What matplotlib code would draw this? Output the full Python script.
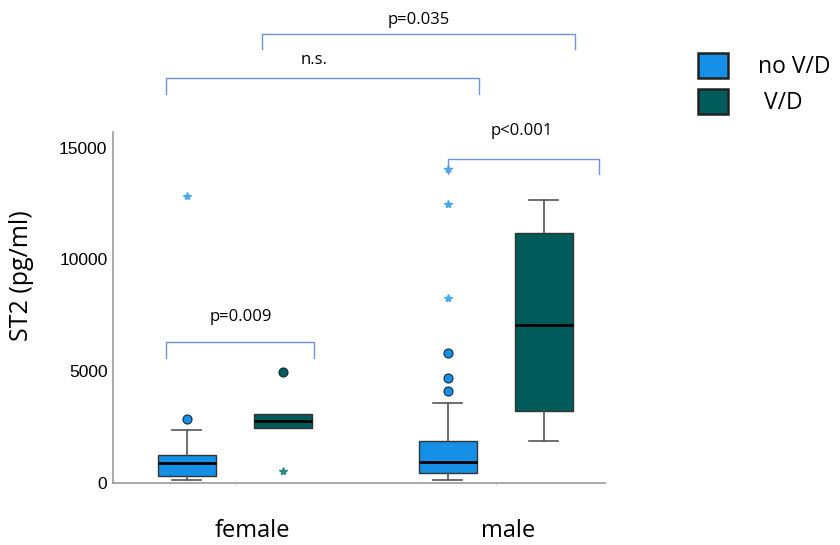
import matplotlib
matplotlib.use("Agg")
import matplotlib.pyplot as plt
from matplotlib.patches import Patch
import matplotlib.transforms as mtransforms

# ST2 box plot by sex and V/D status

groups = ["female", "male"]
series = ["no V/D", "V/D"]
colors = ["#1690e6", "#005c5a"]
star_colors = ["#4aaaf0", "#2f8a86"]

# whisker low, Q1, median, Q3, whisker high  (female, male)
whislo = [[130, 130], [2440, 1860]]
q1 = [[330, 460], [2440, 3200]]
med = [[890, 920], [2750, 7080]]
q3 = [[1250, 1890], [3080, 11160]]
whishi = [[2380, 3570], [3080, 12650]]
outliers = [[[2860], [4120, 4690, 5820]], [[4970], []]]
extremes = [[[12830], [8260, 12490, 14050]], [[520], []]]

# significance brackets: box index from/to, bracket height, text
br_boxes = [(0, 1), (2, 3), (0, 2), (1, 3)]
br_height = [6300, 14500, 18110, 20090]
br_text = ["p=0.009", "p<0.001", "n.s.", "p=0.035"]
br_text_x = [0.023, 1.101, 0.303, 0.705]
br_text_y = [7410, 15760, 18930, 20710]

fig = plt.figure(figsize=(8.4, 5.45), dpi=100)
ax = fig.add_axes([0.1345, 0.1138, 0.5855, 0.6442])

offset = 0.184
width = 0.222
box_x = []
for g in range(len(groups)):
    for s in range(len(series)):
        box_x.append(g + (s - 0.5) * 2 * offset)

for s in range(len(series)):
    stats = []
    pos = []
    for g in range(len(groups)):
        stats.append(dict(whislo=whislo[s][g], q1=q1[s][g], med=med[s][g],
                          q3=q3[s][g], whishi=whishi[s][g],
                          fliers=outliers[s][g]))
        pos.append(g + (s - 0.5) * 2 * offset)
    ax.bxp(stats, positions=pos, widths=width, patch_artist=True,
           boxprops=dict(facecolor=colors[s], edgecolor="#333333", linewidth=1),
           medianprops=dict(color="black", linewidth=2),
           whiskerprops=dict(color="#555555", linewidth=1.2),
           capprops=dict(color="#555555", linewidth=1.2),
           capwidths=width * 0.5 if s == 0 else (width * 0.0, width * 0.5),
           flierprops=dict(marker="o", markerfacecolor=colors[s],
                           markeredgecolor="#1a2a3a", markersize=6.5,
                           markeredgewidth=0.8))
    for g in range(len(groups)):
        xs = [g + (s - 0.5) * 2 * offset] * len(extremes[s][g])
        ax.plot(xs, extremes[s][g], linestyle="none", marker="*",
                color=star_colors[s], markersize=6)

ax.set_xlim(-0.467, 1.418)
ax.set_ylim(0, 15700)
ax.set_yticks([0, 5000, 10000, 15000])
ax.set_yticklabels(["0", "5000", "10000", "15000"], fontsize=12.5,
                   family="Liberation Sans")
ax.tick_params(axis="y", length=0, pad=4)
ax.set_xticks([0, 1])
ax.set_xticklabels(groups, fontsize=17, family="Open Sans")
ax.tick_params(axis="x", length=2, color="#dddddd", pad=24)
for lbl, dx in zip(ax.get_xticklabels(), [18, 12]):
    lbl.set_transform(lbl.get_transform() +
                      mtransforms.ScaledTranslation(dx / 100, 0, fig.dpi_scale_trans))
ax.set_ylabel("ST2 (pg/ml)", fontsize=18, family="Open Sans", labelpad=12)
ax.yaxis.set_label_coords(-0.16, 0.59)
for side in ["top", "right"]:
    ax.spines[side].set_visible(False)
for side in ["left", "bottom"]:
    ax.spines[side].set_color("#9a9a9a")
    ax.spines[side].set_linewidth(1.2)

drop = 700
for k, (i, j) in enumerate(br_boxes):
    h = br_height[k]
    x1 = box_x[i] - 0.08
    x2 = box_x[j] + 0.12
    if br_text[k] == "p<0.001":
        x1 = box_x[i]
        x2 = box_x[j] + 0.21
    ax.plot([x1, x1, x2, x2], [h - drop, h, h, h - drop], color="#7092d8",
            linewidth=1, clip_on=False)
    ax.text(br_text_x[k], br_text_y[k], br_text[k], ha="center", va="center",
            fontsize=12, family="Open Sans", clip_on=False)

handles = [Patch(facecolor=colors[0], edgecolor="#222222", linewidth=1.8),
           Patch(facecolor=colors[1], edgecolor="#222222", linewidth=1.8)]
fig.legend(handles, ["no V/D", " V/D"], loc="upper left",
           bbox_to_anchor=(0.831, 0.903), frameon=False, borderpad=0,
           borderaxespad=0, prop=dict(family="Open Sans", size=16.5),
           handlelength=1.31, handleheight=1.31, handletextpad=1.31,
           labelspacing=0.44)

fig.savefig("out.png", dpi=100)
